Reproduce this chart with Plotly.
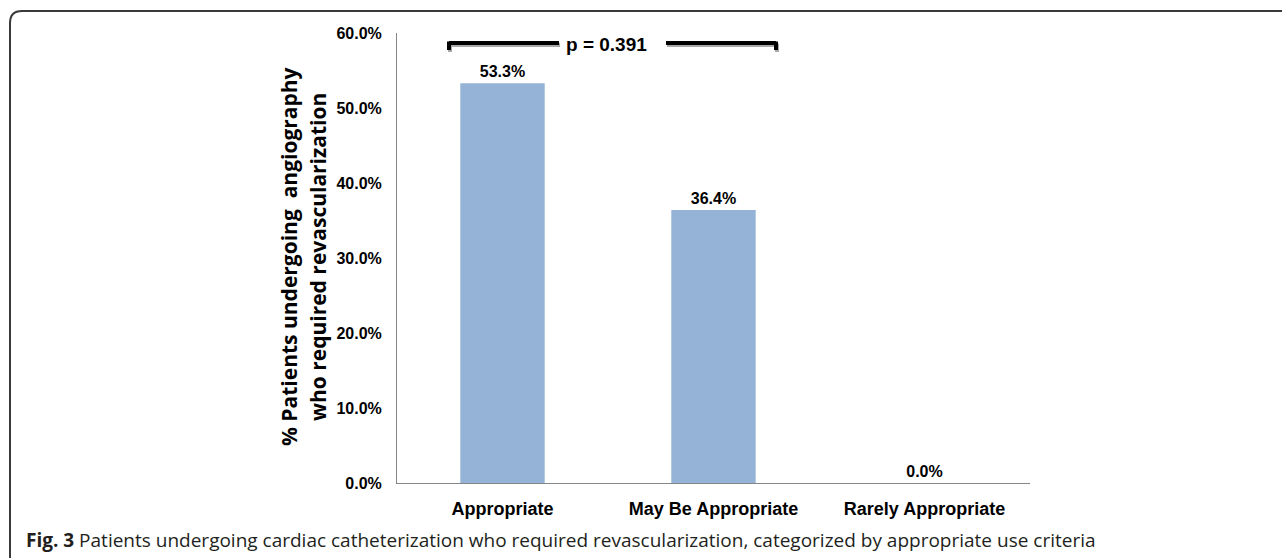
import plotly.graph_objects as go

# ---- data ----
categories = ["Appropriate", "May Be Appropriate", "Rarely Appropriate"]
values = [53.3, 36.4, 0.0]
y_ticks = [0, 10, 20, 30, 40, 50, 60]
y_tick_labels = ["0.0%", "10.0%", "20.0%", "30.0%", "40.0%", "50.0%", "60.0%"]
p_text = "p = 0.391"
y_title_lines = ["% Patients undergoing  angiography", "who required revascularization"]
caption_bold = "Fig. 3"
caption_text = " Patients undergoing cardiac catheterization who required revascularization, categorized by appropriate use criteria"

# ---- layout geometry (pixels) ----
W, H = 1282, 558
L, R, T, B = 397, 1030, 33, 483
PW, PH = R - L, B - T


def px(x):
    return (x - L) / PW


def py(y):
    return (B - y) / PH


BAR_COLOR = "#95B3D7"
AXIS_COLOR = "#868686"
TXT = "#000000"

fig = go.Figure()
fig.add_trace(go.Bar(
    x=categories, y=values,
    marker=dict(color=BAR_COLOR, line=dict(width=0)),
    width=0.4,
    texttemplate="%{y:.1f}%",
    textposition="outside",
    textfont=dict(family="Liberation Sans", size=16, color=TXT, weight="bold"),
    cliponaxis=False,
    hoverinfo="skip",
))

shapes = []
# bracket (shadow then black)
bx0, bx1, by, bdrop = 449, 776, 43, 7
gap0, gap1 = 559, 666
for dx, dy, col, w in [(1, 2, "#a8a8a8", 4), (0, 0, "#000000", 4)]:
    for (xa, xb) in [(bx0, gap0), (gap1, bx1)]:
        shapes.append(dict(type="line", xref="paper", yref="paper",
                           x0=px(xa + dx), x1=px(xb + dx), y0=py(by + dy), y1=py(by + dy),
                           line=dict(color=col, width=w)))
    for xe in (bx0, bx1):
        shapes.append(dict(type="line", xref="paper", yref="paper",
                           x0=px(xe + dx), x1=px(xe + dx), y0=py(by + dy - 1.5), y1=py(by + dy + bdrop),
                           line=dict(color=col, width=w)))

# rounded frame (left + top)
fx, fy, r = 10, 11, 12
path = (f"M {px(fx)},{py(H + 5)} L {px(fx)},{py(fy + r)} "
        f"Q {px(fx)},{py(fy)} {px(fx + r)},{py(fy)} L {px(W + 5)},{py(fy)}")
shapes.append(dict(type="path", xref="paper", yref="paper", path=path,
                   line=dict(color="#3a3a3a", width=2)))

annotations = [
    dict(x=px(606), y=py(44), xref="paper", yref="paper", text=p_text, showarrow=False,
         xanchor="center", yanchor="middle",
         font=dict(family="Liberation Sans", size=19, color=TXT, weight="bold")),
    dict(x=px(289), y=py(257), xref="paper", yref="paper",
         text=y_title_lines[0], showarrow=False, textangle=-90,
         xanchor="center", yanchor="middle",
         font=dict(family="Open Sans", size=21, color=TXT, weight="bold")),
    dict(x=px(318), y=py(257), xref="paper", yref="paper",
         text=y_title_lines[1], showarrow=False, textangle=-90,
         xanchor="center", yanchor="middle",
         font=dict(family="Open Sans", size=21, color=TXT, weight="bold")),
    dict(x=px(24), y=py(540), xref="paper", yref="paper",
         text=f"<b>{caption_bold}</b>{caption_text}", showarrow=False,
         xanchor="left", yanchor="middle",
         font=dict(family="Open Sans", size=19, color="#231f20")),
]

fig.update_layout(
    width=W, height=H,
    margin=dict(l=L, r=W - R, t=T, b=H - B, pad=0),
    paper_bgcolor="white", plot_bgcolor="white",
    showlegend=False,
    bargap=0.6,
    shapes=shapes,
    annotations=annotations,
    xaxis=dict(
        showline=True, linecolor=AXIS_COLOR, linewidth=1, ticks="",
        showgrid=False, zeroline=False,
        tickfont=dict(family="Liberation Sans", size=18, color=TXT, weight="bold"),
        ticklabelstandoff=9,
    ),
    yaxis=dict(
        range=[0, 60], tickvals=y_ticks, ticktext=y_tick_labels,
        showline=True, linecolor=AXIS_COLOR, linewidth=1, ticks="",
        showgrid=False, zeroline=False,
        tickfont=dict(family="Liberation Sans", size=16, color=TXT, weight="bold"),
        ticklabelstandoff=11,
    ),
)

fig.write_html("out.html")
